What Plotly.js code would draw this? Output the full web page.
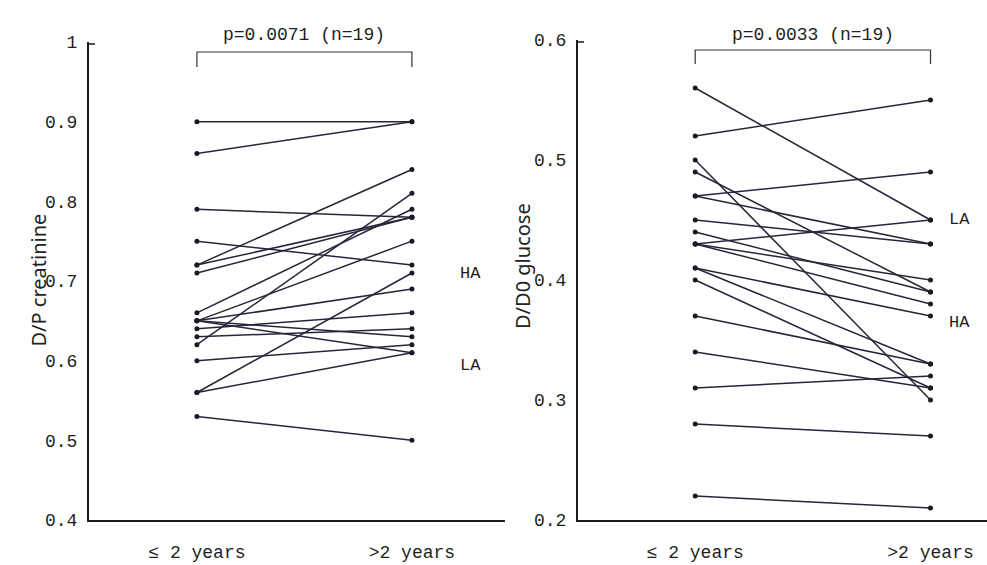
<!DOCTYPE html>
<html>
<head>
<meta charset="utf-8">
<script src="https://cdn.plot.ly/plotly-3.0.1.min.js"></script>
<style>html,body{margin:0;padding:0;background:#fff;}#chart{width:987px;height:565px;}</style>
</head>
<body>
<div id="chart"></div>
<script>
// Categories
const periods = ["\u2264 2 years", ">2 years"];

// D/P creatinine (n=19): value at <=2 years and at >2 years
const creatinineEarly = [0.90,0.86,0.79,0.75,0.72,0.72,0.71,0.66,0.65,0.65,0.65,0.65,0.64,0.63,0.62,0.60,0.56,0.56,0.53];
const creatinineLate  = [0.90,0.90,0.78,0.72,0.84,0.78,0.78,0.79,0.75,0.69,0.63,0.61,0.66,0.64,0.81,0.62,0.71,0.61,0.50];

// D/D0 glucose (n=19)
const glucoseEarly = [0.56,0.52,0.50,0.49,0.47,0.47,0.45,0.44,0.43,0.43,0.43,0.41,0.41,0.40,0.37,0.34,0.31,0.28,0.22];
const glucoseLate  = [0.45,0.55,0.30,0.39,0.49,0.43,0.43,0.39,0.45,0.40,0.38,0.37,0.33,0.31,0.33,0.31,0.32,0.27,0.21];

const creatinineTicks = [0.4,0.5,0.6,0.7,0.8,0.9,1];
const creatinineTickText = ["0.4","0.5","0.6","0.7","0.8","0.9","1"];
const glucoseTicks = [0.2,0.3,0.4,0.5,0.6];
const glucoseTickText = ["0.2","0.3","0.4","0.5","0.6"];

const pLabels = ["p=0.0071 (n=19)", "p=0.0033 (n=19)"];

function pairs(early, late){
  const xs = [], ys = [];
  for (let i = 0; i < early.length; i++){
    xs.push(0, 1, null);
    ys.push(early[i], late[i], null);
  }
  return {xs, ys};
}

const mono = "Liberation Mono, Courier New, monospace";
const lineCol = "#26263a";
const textCol = "#1e1e1e";

const c = pairs(creatinineEarly, creatinineLate);
const g = pairs(glucoseEarly, glucoseLate);

const traces = [
  {x: c.xs, y: c.ys, xaxis: "x", yaxis: "y", mode: "lines+markers", type: "scatter",
   line: {color: lineCol, width: 1.5}, marker: {color: "#1a1a24", size: 5}, connectgaps: false, hoverinfo: "skip"},
  {x: g.xs, y: g.ys, xaxis: "x2", yaxis: "y2", mode: "lines+markers", type: "scatter",
   line: {color: lineCol, width: 1.5}, marker: {color: "#1a1a24", size: 5}, connectgaps: false, hoverinfo: "skip"}
];

const W = 987, H = 565;
const axisFont = {family: mono, size: 18, color: textCol};

const layout = {
  width: W, height: H,
  margin: {l: 0, r: 0, t: 0, b: 0},
  paper_bgcolor: "#ffffff", plot_bgcolor: "rgba(0,0,0,0)",
  showlegend: false,
  xaxis: {domain: [89/W, 505/W], range: [-0.502, 1.433], tickvals: [0,1], ticktext: periods,
          showgrid: false, zeroline: false, showline: true, linecolor: "#1a1a1a", linewidth: 2,
          ticks: "", tickfont: axisFont, ticklabelstandoff: 14, anchor: "y"},
  yaxis: {domain: [45/H, 523/H], range: [0.4, 1.0], tickvals: creatinineTicks, ticktext: creatinineTickText,
          showgrid: false, zeroline: false, showline: true, linecolor: "#1a1a1a", linewidth: 2,
          ticks: "", tickfont: axisFont, ticklabelstandoff: 6, anchor: "x"},
  xaxis2: {domain: [578/W, 1], range: [-0.498, 1.24], tickvals: [0,1], ticktext: periods,
          showgrid: false, zeroline: false, showline: true, linecolor: "#1a1a1a", linewidth: 2,
          ticks: "", tickfont: axisFont, ticklabelstandoff: 14, anchor: "y2"},
  yaxis2: {domain: [45/H, 525/H], range: [0.2, 0.6], tickvals: glucoseTicks, ticktext: glucoseTickText,
          showgrid: false, zeroline: false, showline: true, linecolor: "#1a1a1a", linewidth: 2,
          ticks: "", tickfont: axisFont, ticklabelstandoff: 6, anchor: "x2"},
  shapes: [
    {type: "path", xref: "x", yref: "paper", path: "M 0," + (1-67/H) + " L 0," + (1-52/H) + " L 1," + (1-52/H) + " L 1," + (1-67/H),
     line: {color: "#333", width: 1.2}},
    {type: "path", xref: "x2", yref: "paper", path: "M 0," + (1-64/H) + " L 0," + (1-50/H) + " L 1," + (1-50/H) + " L 1," + (1-64/H),
     line: {color: "#333", width: 1.2}},
    {type: "line", xref: "paper", yref: "paper", x0: 89/W, x1: 95/W, y0: 1-44/H, y1: 1-44/H, line: {color: "#1a1a1a", width: 1.5}},
    {type: "line", xref: "paper", yref: "paper", x0: 578/W, x1: 584/W, y0: 1-42/H, y1: 1-42/H, line: {color: "#1a1a1a", width: 1.5}}
  ],
  annotations: [
    {text: pLabels[0], xref: "x", yref: "paper", x: 0.5, y: 1-23/H, showarrow: false, font: {family: mono, size: 18, color: textCol}},
    {text: pLabels[1], xref: "x2", yref: "paper", x: 0.5, y: 1-23/H, showarrow: false, font: {family: mono, size: 18, color: textCol}},
    {text: "HA", xref: "paper", yref: "paper", x: 470/W, y: 1-273/H, showarrow: false, font: {family: mono, size: 17, color: textCol}},
    {text: "LA", xref: "paper", yref: "paper", x: 470/W, y: 1-365/H, showarrow: false, font: {family: mono, size: 17, color: textCol}},
    {text: "LA", xref: "paper", yref: "paper", x: 972/W, y: 1-219/H, showarrow: false, font: {family: mono, size: 17, color: textCol}},
    {text: "HA", xref: "paper", yref: "paper", x: 972/W, y: 1-322/H, showarrow: false, font: {family: mono, size: 17, color: textCol}},
    {text: "D/P creatinine", xref: "paper", yref: "paper", x: 22/W, y: 1-280/H, textangle: -90, showarrow: false,
     font: {family: "Noto Sans, sans-serif", size: 20, color: "#222"}},
    {text: "D/D0 glucose", xref: "paper", yref: "paper", x: 522/W, y: 1-266/H, textangle: -90, showarrow: false,
     font: {family: "Noto Sans, sans-serif", size: 20, color: "#222"}}
  ]
};

Plotly.newPlot("chart", traces, layout, {displayModeBar: false, staticPlot: true});
</script>
</body>
</html>
